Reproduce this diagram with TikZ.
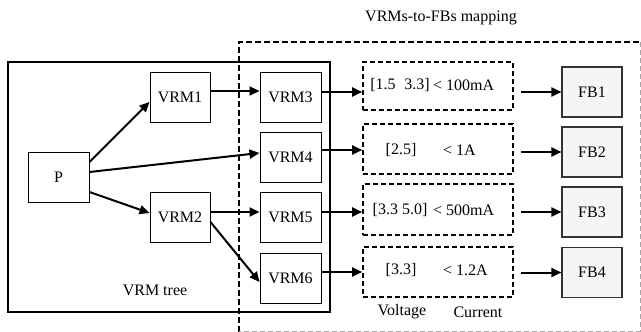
\documentclass[tikz,border=0pt]{standalone}
\usepackage{fontspec}
\setmainfont{Liberation Serif}
\usetikzlibrary{arrows.meta}
\begin{document}
\begin{tikzpicture}[x=1pt,y=-1pt,
  every node/.style={font=\fontsize{16}{18}\selectfont, inner sep=0pt},
  vrm/.style={draw, line width=1pt, minimum width=61pt, minimum height=50pt},
  fb/.style={draw=black!80, fill=black!4, line width=1.1pt, minimum width=60pt, minimum height=50pt},
  rng/.style={draw, line width=1.6pt, dash pattern=on 5pt off 3pt, minimum width=150pt},
  arr/.style={line width=2pt, -{Triangle[length=10pt,width=9pt]}},
  lbl/.style={anchor=center}]
\useasboundingbox (0,0) rectangle (641,332);

% VRM tree frame
\draw[line width=1.1pt] (8,62) rectangle (330,312);
\node[lbl] (treelbl) at (155,290) {VRM tree};

% mapping frame: bold dashed top/left, faint dashed right/bottom
\draw[line width=1.6pt, dash pattern=on 6pt off 3pt] (239,332) -- (239,42) -- (640,42);
\draw[black!35, line width=0.8pt, dash pattern=on 5pt off 3pt] (640,42) -- (640,331) -- (239,331);
\node[lbl] (maplbl) at (441,18) {VRMs-to-FBs mapping};

% regulators
\node[vrm, minimum width=61pt] (p) at (58.5,177) {P};
\node[vrm, minimum width=60pt] (vrm1) at (180,97) {VRM1};
\node[vrm, minimum width=60pt] (vrm2) at (180,217) {VRM2};
\node[vrm] (vrm3) at (290.5,97) {VRM3};
\node[vrm] (vrm4) at (290.5,157) {VRM4};
\node[vrm] (vrm5) at (290.5,217) {VRM5};
\node[vrm] (vrm6) at (290.5,278) {VRM6};

% voltage / current requirement boxes
\node[rng, minimum height=48pt] (d1) at (438,86) {};
\node[rng, minimum height=50pt] (d2) at (438,149) {};
\node[rng, minimum height=51pt] (d3) at (438,209.5) {};
\node[rng, minimum height=50pt] (d4) at (438,272) {};

\node[lbl] (v1) at (400,85) {[1.5\hspace{0.55em}3.3]};
\node[anchor=west] (c1) at (433,85) {< 100mA};
\node[lbl] (v2) at (401,150) {[2.5]};
\node[anchor=west] (c2) at (443,150) {< 1A};
\node[lbl] (v3) at (400,210) {[3.3 5.0]};
\node[anchor=west] (c3) at (433,210) {< 500mA};
\node[lbl] (v4) at (401,270) {[3.3]};
\node[anchor=west] (c4) at (443,270) {< 1.2A};
\node[lbl] (vlt) at (402,312) {Voltage};
\node[lbl] (cur) at (478,312) {Current};

% functional blocks
\node[fb] (fb1) at (592,92) {FB1};
\node[fb] (fb2) at (592,152) {FB2};
\node[fb] (fb3) at (592,212) {FB3};
\node[fb] (fb4) at (592,272.5) {FB4};

% tree connections
\draw[arr] ([yshift=15pt]p.east) -- ([yshift=-5pt]vrm1.west);
\draw[arr] ([yshift=5pt]p.east) -- ([yshift=4pt]vrm4.west);
\draw[arr] ([yshift=-15pt]p.east) -- ([yshift=4pt]vrm2.west);
\draw[arr] ([yshift=6pt]vrm1.east) -- ([yshift=6pt]vrm3.west);
\draw[arr] ([yshift=5pt]vrm2.east) -- ([yshift=5pt]vrm5.west);
\draw[arr] ([yshift=-5pt]vrm2.east) -- ([yshift=-4pt]vrm6.west);

% VRMs to requirement boxes
\coordinate (a1) at ([yshift=5pt]vrm3.east);
\coordinate (a2) at ([yshift=7pt]vrm4.east);
\coordinate (a3) at ([yshift=5pt]vrm5.east);
\coordinate (a4) at ([yshift=6pt]vrm6.east);
\draw[arr] (a1) -- (a1 -| d1.west);
\draw[arr] (a2) -- (a2 -| d2.west);
\draw[arr] (a3) -- (a3 -| d3.west);
\draw[arr] (a4) -- (a4 -| d4.west);

% requirement boxes to functional blocks
\draw[arr, shorten <=7pt] (fb1.west -| d1.east) -- (fb1.west);
\draw[arr, shorten <=7pt] (fb2.west -| d2.east) -- (fb2.west);
\draw[arr, shorten <=7pt] (fb3.west -| d3.east) -- (fb3.west);
\draw[arr, shorten <=7pt] (fb4.west -| d4.east) -- (fb4.west);
\end{tikzpicture}
\end{document}
